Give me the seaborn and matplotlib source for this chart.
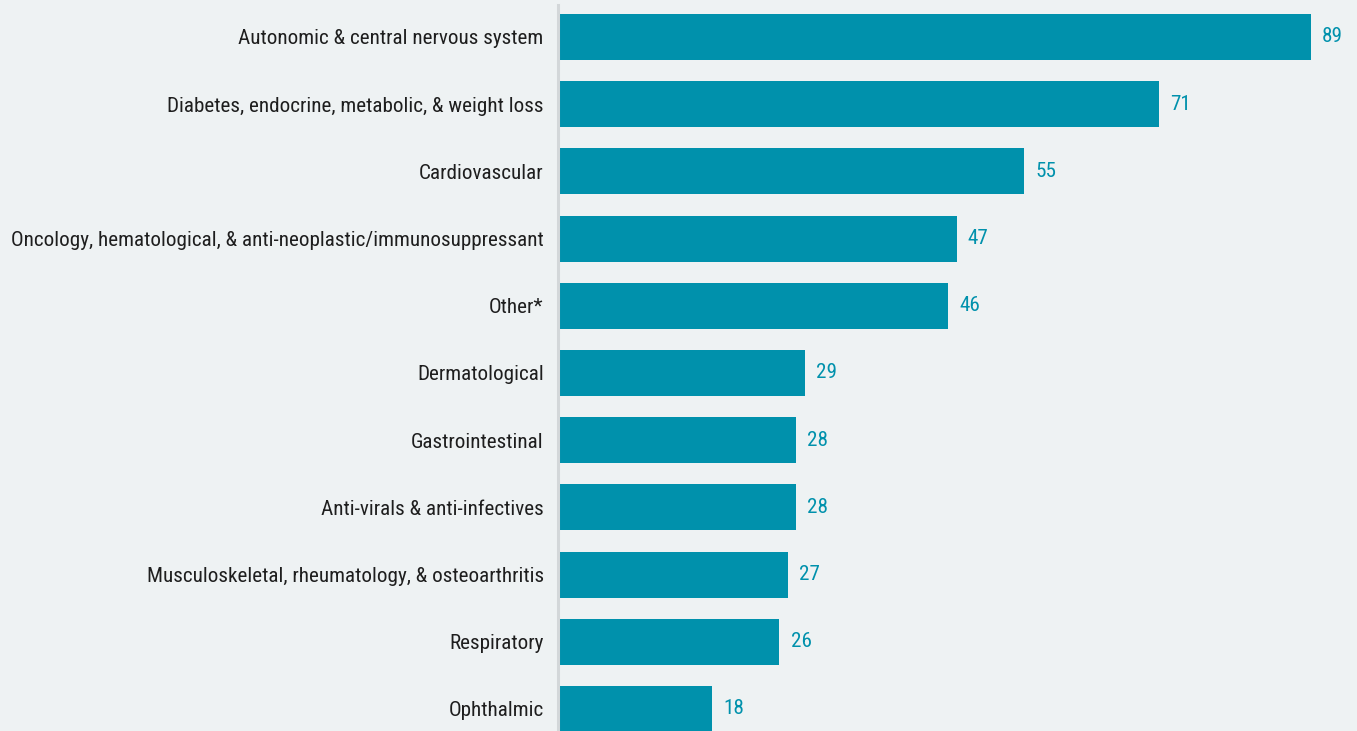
import matplotlib
matplotlib.use("Agg")
import matplotlib.pyplot as plt
from matplotlib import font_manager
import seaborn as sns
import pandas as pd

categories = [
    "Autonomic & central nervous system",
    "Diabetes, endocrine, metabolic, & weight loss",
    "Cardiovascular",
    "Oncology, hematological, & anti-neoplastic/immunosuppressant",
    "Other*",
    "Dermatological",
    "Gastrointestinal",
    "Anti-virals & anti-infectives",
    "Musculoskeletal, rheumatology, & osteoarthritis",
    "Respiratory",
    "Ophthalmic",
]
counts = [89, 71, 55, 47, 46, 29, 28, 28, 27, 26, 18]

BG = "#EEF2F3"
BAR = "#0091AC"
TEXT = "#1E1E1E"

# prefer a condensed face if one is present
installed = {f.name for f in font_manager.fontManager.ttflist}
candidates = ["Roboto Condensed", "Open Sans Condensed", "DejaVu Sans Condensed",
              "Liberation Sans Narrow", "Noto Sans Condensed", "Roboto", "Open Sans"]
family = next((c for c in candidates if c in installed), "DejaVu Sans")

sns.set_theme(style="white")
plt.rcParams["font.family"] = [family, "DejaVu Sans"]

df = pd.DataFrame({"category": categories, "count": counts})

W, H = 1357, 731
fig = plt.figure(figsize=(W / 100, H / 100), dpi=100, facecolor=BG)
ax = fig.add_axes([560 / W, 0, 1 - 560 / W, 1])
ax.set_facecolor(BG)

sns.barplot(data=df, x="count", y="category", orient="h", color=BAR,
            saturation=1, width=0.685, linewidth=0, ax=ax)

px_per_unit = (1311 - 560) / 89
ax.set_xlim(0, (W - 560) / px_per_unit)
row = 67.2
top_c = 37
ax.set_ylim((H - top_c) / row, -top_c / row)

# size the labels so the longest one fits the space left of the axis
renderer = fig.canvas.get_renderer()
probe = fig.text(0, 0, max(categories, key=len), fontsize=20)
w20 = probe.get_window_extent(renderer).width
probe.remove()
fs = min(15.5, 20 * 532 / w20)

for c in ax.containers:
    ax.bar_label(c, padding=8, color=BAR, fontsize=fs)

ax.set_xlabel("")
ax.set_ylabel("")
ax.set_xticks([])
ax.tick_params(axis="y", length=0, pad=10.5, labelsize=fs, labelcolor=TEXT)

for s in ["top", "right", "bottom"]:
    ax.spines[s].set_visible(False)
ax.spines["left"].set_color("#D3D7D9")
ax.spines["left"].set_linewidth(2.2)
ax.spines["left"].set_position(("outward", 1.2))
ax.spines["left"].set_bounds(-32 / row, (H - top_c) / row)

fig.savefig("out.png", dpi=100, facecolor=BG)
